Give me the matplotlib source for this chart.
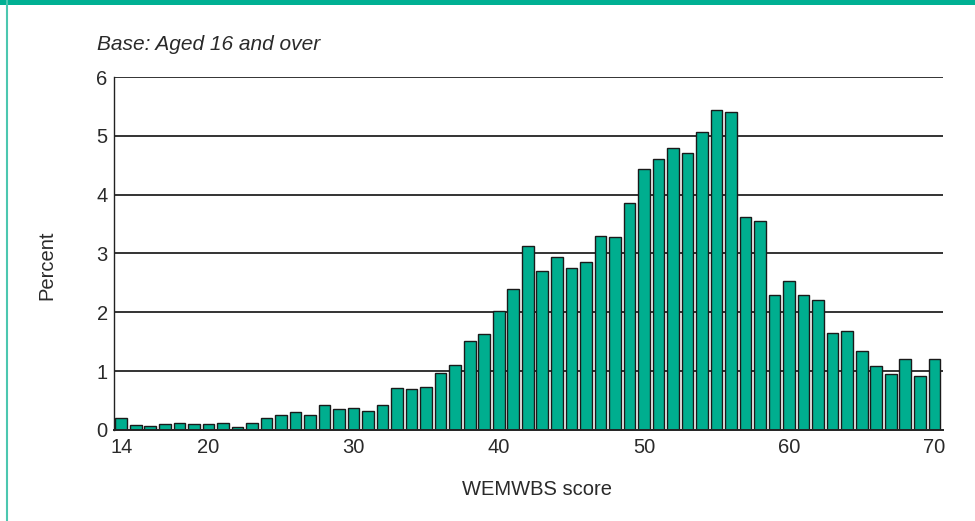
import matplotlib
matplotlib.use("Agg")
import matplotlib.pyplot as plt
import matplotlib.patches as mpatches
import matplotlib.lines as mlines

scores = list(range(14, 71))
percent = [0.20, 0.085, 0.07, 0.095, 0.125, 0.095, 0.095, 0.12, 0.056, 0.12,
           0.20, 0.26, 0.30, 0.26, 0.43, 0.35, 0.375, 0.32, 0.43, 0.71,
           0.70, 0.73, 0.97, 1.11, 1.51, 1.64, 2.02, 2.40, 3.13, 2.70,
           2.94, 2.76, 2.86, 3.30, 3.28, 3.85, 4.44, 4.60, 4.79, 4.71,
           5.07, 5.44, 5.40, 3.62, 3.55, 2.30, 2.53, 2.30, 2.21, 1.65,
           1.68, 1.35, 1.08, 0.95, 1.20, 0.91, 1.20]
xticks = [14, 20, 30, 40, 50, 60, 70]
yticks = [0, 1, 2, 3, 4, 5, 6]

plt.rcParams['font.family'] = ['Liberation Sans', 'DejaVu Sans']
TXT = "#2a2a2a"
FS = 14.5

fig = plt.figure(figsize=(9.75, 5.21), dpi=100)
ax = fig.add_axes([0.1169, 0.1747, 0.8503, 0.6775])

for y in yticks[1:]:
    ax.axhline(y, color="#333333", lw=1.4, zorder=1)

ax.bar(scores, percent, width=0.8, color="#00AE8F", edgecolor="#1a1a1a",
       linewidth=1.0, zorder=2)

ax.set_xlim(13.5, 70.6)
ax.set_ylim(0, 6)
ax.set_xticks(xticks)
ax.set_yticks(yticks)
ax.tick_params(length=0, labelsize=FS, colors=TXT)
ax.tick_params(axis='x', pad=6)
ax.tick_params(axis='y', pad=4.5)
for s in ["top", "right"]:
    ax.spines[s].set_visible(False)
ax.spines["left"].set_color("#222222")
ax.spines["bottom"].set_color("#222222")
ax.spines["left"].set_linewidth(1.0)
ax.spines["bottom"].set_linewidth(1.4)

ax.set_xlabel("WEMWBS score", fontsize=FS, color=TXT)
ax.xaxis.set_label_coords((537 - 114) / 829, -(490 - 430) / 353, transform=ax.transAxes)
ax.xaxis.label.set_va("center")
ax.set_ylabel("Percent", fontsize=FS, color=TXT)
ax.yaxis.set_label_coords(-(114 - 47) / 829, (430 - 265) / 353, transform=ax.transAxes)
ax.yaxis.label.set_va("center")

fig.text(97/975, 1-50/521, "Base: Aged 16 and over", fontsize=15, style="italic",
         color=TXT, va="baseline", ha="left")

# decorative frame
fig.add_artist(mpatches.Rectangle((0, 1-4.5/521), 1, 4.5/521, transform=fig.transFigure,
                                  color="#00B093", lw=0))
fig.add_artist(mlines.Line2D([7/975, 7/975], [0, 1], transform=fig.transFigure,
                             color="#4CC7B0", lw=1.5))

fig.savefig("out.png", dpi=100)
